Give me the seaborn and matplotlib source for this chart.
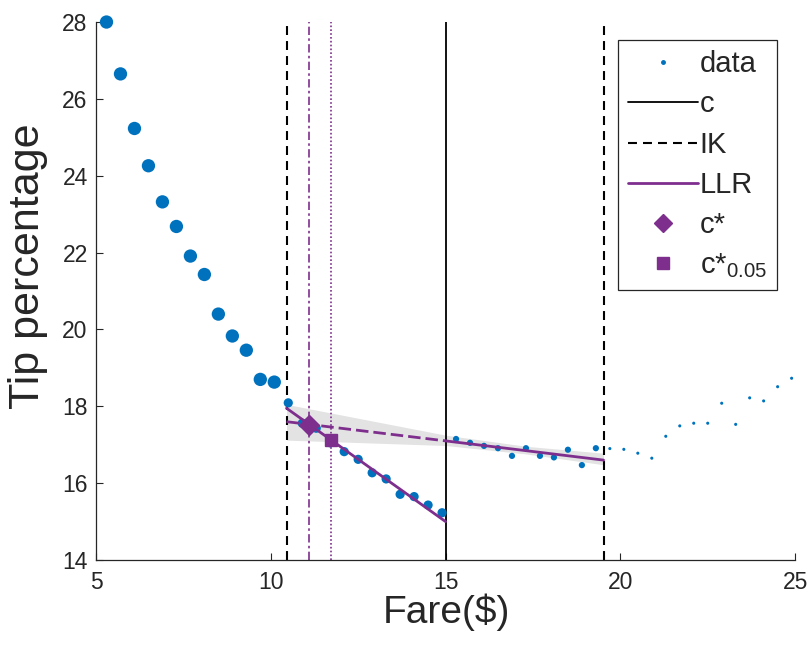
import matplotlib
matplotlib.use("Agg")
import matplotlib.pyplot as plt
from matplotlib.lines import Line2D
import seaborn as sns
import pandas as pd
import numpy as np

# binned means: fare bin centre ($) and tip percentage
fare = [5.3, 5.7, 6.1, 6.5, 6.9, 7.3, 7.7, 8.1, 8.5, 8.9, 9.3, 9.7, 10.1, 10.5,
        10.9, 11.3, 11.7, 12.1, 12.5, 12.9, 13.3, 13.7, 14.1, 14.5, 14.9,
        15.3, 15.7, 16.1, 16.5, 16.9, 17.3, 17.7, 18.1, 18.5, 18.9, 19.3,
        19.7, 20.1, 20.5, 20.9, 21.3, 21.7, 22.1, 22.5, 22.9, 23.3, 23.7, 24.1, 24.5, 24.9]
tip = [28.0, 26.65, 25.23, 24.26, 23.32, 22.68, 21.91, 21.43, 20.40, 19.83, 19.46, 18.70, 18.63, 18.09,
       17.56, 17.43, 17.05, 16.82, 16.62, 16.27, 16.11, 15.71, 15.65, 15.43, 15.23,
       17.15, 17.05, 16.97, 16.91, 16.71, 16.91, 16.71, 16.67, 16.87, 16.47, 16.91,
       16.90, 16.88, 16.78, 16.65, 17.22, 17.49, 17.56, 17.56, 18.08, 17.53, 18.22, 18.14, 18.51, 18.73]

cutoff = 15.0
ik_bounds = [10.45, 19.52]
c_star = 11.1
c_star_05 = 11.72

# local linear regression fits
left_fit_x = [10.45, 15.0]
left_fit_y = [17.95, 15.0]
right_fit_x = [15.0, 19.52]
right_fit_y = [17.10, 16.60]
right_ext_x = [10.45, 15.0]
right_ext_y = [17.60, 17.10]

# confidence band around the right-side fit
band_x = [10.45, 15.0, 17.3, 19.52]
band_lo = [17.12, 16.98, 16.76, 16.48]
band_hi = [18.05, 17.25, 16.96, 16.78]

c_star_point = [11.1, 17.51]
c_star_05_point = [11.72, 17.12]

blue = "#0072BD"
purple = "#7E2F8E"
dark = "#262626"

sns.set_style("ticks")
plt.rcParams["font.family"] = ["Liberation Sans", "DejaVu Sans"]
plt.rcParams["mathtext.fontset"] = "custom"
plt.rcParams["mathtext.rm"] = "Liberation Sans"
plt.rcParams["mathtext.it"] = "Liberation Sans"

df = pd.DataFrame({"fare": fare, "tip": tip})
# marker size shrinks with the zone the bin falls in
df["zone"] = np.select(
    [df["fare"] < ik_bounds[0], df["fare"] < cutoff, df["fare"] < ik_bounds[1]],
    ["outside_left", "left", "right"], default="outside_right")
zone_sizes = {"outside_left": 92, "left": 44, "right": 20, "outside_right": 5}

fig = plt.figure(figsize=(8.11, 6.46), dpi=100)
ax = fig.add_axes([0.1184, 0.1331, 0.862, 0.8328])

ax.fill_between(band_x, band_lo, band_hi, color="#e3e3e3", linewidth=0, zorder=1)

sns.scatterplot(data=df, x="fare", y="tip", size="zone", sizes=zone_sizes,
                color=blue, linewidth=0, legend=False, ax=ax, zorder=3, clip_on=False)

sns.lineplot(x=left_fit_x, y=left_fit_y, color=purple, lw=2.0, ax=ax, zorder=4)
sns.lineplot(x=right_fit_x, y=right_fit_y, color=purple, lw=2.0, ax=ax, zorder=4)
sns.lineplot(x=right_ext_x, y=right_ext_y, color=purple, lw=2.0, ax=ax, zorder=4,
             linestyle=(0, (4.5, 1.8)))

ax.axvline(cutoff, color="k", lw=1.3, zorder=2)
for b in ik_bounds:
    ax.axvline(b, color="k", lw=1.5, ls=(0, (4.3, 2.9)), zorder=2)
ax.axvline(c_star, color=purple, lw=1.2, ls=(0, (5, 2, 1.5, 2)), zorder=2)
ax.axvline(c_star_05, color=purple, lw=1.2, ls=(0, (1, 1.3)), zorder=2)

ax.plot(c_star_point[0], c_star_point[1], marker="D", ms=10, color=purple, ls="none", zorder=5)
ax.plot(c_star_05_point[0], c_star_05_point[1], marker="s", ms=9, color=purple, ls="none", zorder=5)

ax.set_xlim(5, 25)
ax.set_ylim(14, 28)
ax.set_xticks([5, 10, 15, 20, 25])
ax.set_yticks(range(14, 29, 2))
ax.tick_params(direction="in", length=5, width=0.8, labelsize=16.5,
               colors=dark, labelcolor=dark, pad=6)
ax.tick_params(axis="x", pad=8)
sns.despine(ax=ax)
for s in ["left", "bottom"]:
    ax.spines[s].set_color(dark)
    ax.spines[s].set_linewidth(0.9)

ax.set_xlabel("Fare($)", fontsize=28, color=dark)
ax.set_ylabel("Tip percentage", fontsize=31, color=dark)
ax.xaxis.set_label_coords(0.5007, -0.062)
ax.yaxis.set_label_coords(-0.069, 0.546)

handles = [
    Line2D([], [], marker="o", ms=2.5, color=blue, ls="none"),
    Line2D([], [], color="k", lw=1.3),
    Line2D([], [], color="k", lw=1.5, ls=(0, (4.3, 2.9))),
    Line2D([], [], color=purple, lw=2.0),
    Line2D([], [], marker="D", ms=9, color=purple, ls="none"),
    Line2D([], [], marker="s", ms=8.5, color=purple, ls="none"),
]
labels = ["data", "c", "IK", "LLR", "c*", r"c*$_{0.05}$"]
leg = ax.legend(handles, labels, loc="upper right", bbox_to_anchor=(777 / 811, 1 - 40 / 646),
                bbox_transform=fig.transFigure, borderaxespad=0, frameon=True, fancybox=False,
                edgecolor=dark, framealpha=1, fontsize=21, handlelength=2.4,
                handletextpad=0.05, labelspacing=0.42, borderpad=0.35)
leg.get_frame().set_linewidth(0.9)

fig.savefig("out.png", dpi=100)
